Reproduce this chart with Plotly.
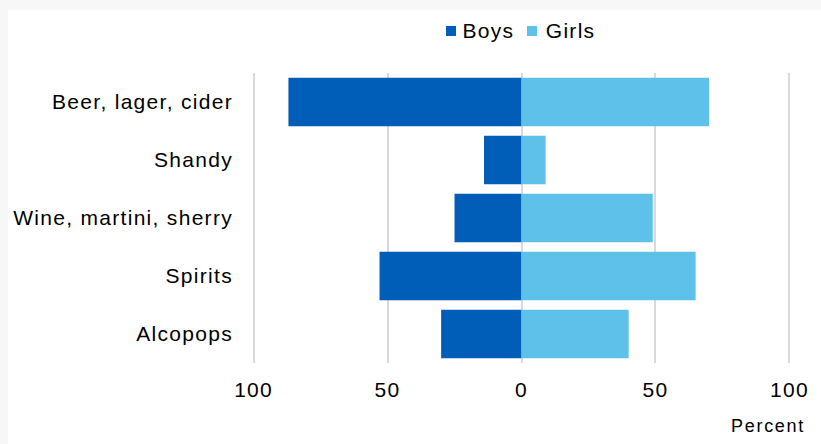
import plotly.graph_objects as go

# Drink types, top to bottom
categories = ["Beer, lager, cider", "Shandy", "Wine, martini, sherry", "Spirits", "Alcopops"]
boys = [87, 14, 25, 53, 30]
girls = [70, 9, 49, 65, 40]
tick_vals = [-100, -50, 0, 50, 100]
tick_text = ["100", "50", "0", "50", "100"]
series_names = ["Boys", "Girls"]

BOYS_COLOR = "#005EB8"
GIRLS_COLOR = "#5EC1EA"
FONT = "Arial"

W, H = 821, 444
L, R, T, B = 252, 30, 73, 81
pw, ph = W - L - R, H - T - B


def px_x(p):
    return (p - L) / pw


def px_y(p):
    return (H - B - p) / ph


fig = go.Figure()
fig.add_trace(go.Bar(
    y=categories, x=[-v for v in boys], name=series_names[0], orientation="h",
    marker=dict(color=BOYS_COLOR, line=dict(width=0)),
    customdata=boys, hovertemplate="%{y}: %{customdata}%<extra>Boys</extra>",
    showlegend=False,
))
fig.add_trace(go.Bar(
    y=categories, x=girls, name=series_names[1], orientation="h",
    marker=dict(color=GIRLS_COLOR, line=dict(width=0)),
    hovertemplate="%{y}: %{x}%<extra>Girls</extra>",
    showlegend=False,
))

shapes = [
    # white card over the light grey page background
    dict(type="rect", xref="paper", yref="paper", layer="below",
         x0=px_x(8), x1=px_x(W + 5), y0=px_y(H + 5), y1=px_y(10),
         fillcolor="white", line=dict(width=0)),
]
annotations = [
    dict(text="Percent", xref="paper", yref="paper", x=px_x(768), y=px_y(426),
         xanchor="center", yanchor="middle", showarrow=False,
         font=dict(size=18, family=FONT, color="#000000")),
]

# Legend drawn as squares + labels above the plot
legend_items = [(series_names[0], BOYS_COLOR, 446, 488), (series_names[1], GIRLS_COLOR, 527, 570)]
for name, color, sq_x, text_cx in legend_items:
    shapes.append(dict(type="rect", xref="paper", yref="paper",
                       x0=px_x(sq_x), x1=px_x(sq_x + 10), y0=px_y(36), y1=px_y(26),
                       fillcolor=color, line=dict(width=0)))
    annotations.append(dict(text=name, xref="paper", yref="paper",
                            x=px_x(text_cx), y=px_y(31), xanchor="center", yanchor="middle",
                            showarrow=False, font=dict(size=21, family=FONT, color="#000000")))

fig.update_layout(
    width=W, height=H,
    margin=dict(l=L, r=R, t=T, b=B, pad=0),
    barmode="relative",
    bargap=0.16,
    paper_bgcolor="#F7F7F7",
    plot_bgcolor="white",
    font=dict(family=FONT, size=21, color="#000000"),
    xaxis=dict(
        range=[-100.6, 100.6], tickvals=tick_vals, ticktext=tick_text,
        showgrid=True, gridcolor="#D9D9D9", gridwidth=1.5,
        zeroline=True, zerolinecolor="#D9D9D9", zerolinewidth=1.5,
        showline=False, ticks="", ticklabelstandoff=12, fixedrange=True,
    ),
    yaxis=dict(
        autorange="reversed", showgrid=False, showline=False, ticks="",
        ticklabelstandoff=18, fixedrange=True,
    ),
    shapes=shapes,
    annotations=annotations,
)

# Slightly open letter spacing on all chart text
post_script = """
var gd = document.getElementById('{plot_id}');
function spaceText() {
  gd.querySelectorAll('.xtick text, .ytick text, .annotation-text').forEach(function (t) {
    t.style.letterSpacing = '1.3px';
  });
  var pct = gd.querySelector('g.annotation[data-index="0"] .annotation-text');
  if (pct) { pct.style.letterSpacing = '1.7px'; }
}
spaceText();
gd.on('plotly_afterplot', spaceText);
"""

fig.write_html("out.html", post_script=post_script)
